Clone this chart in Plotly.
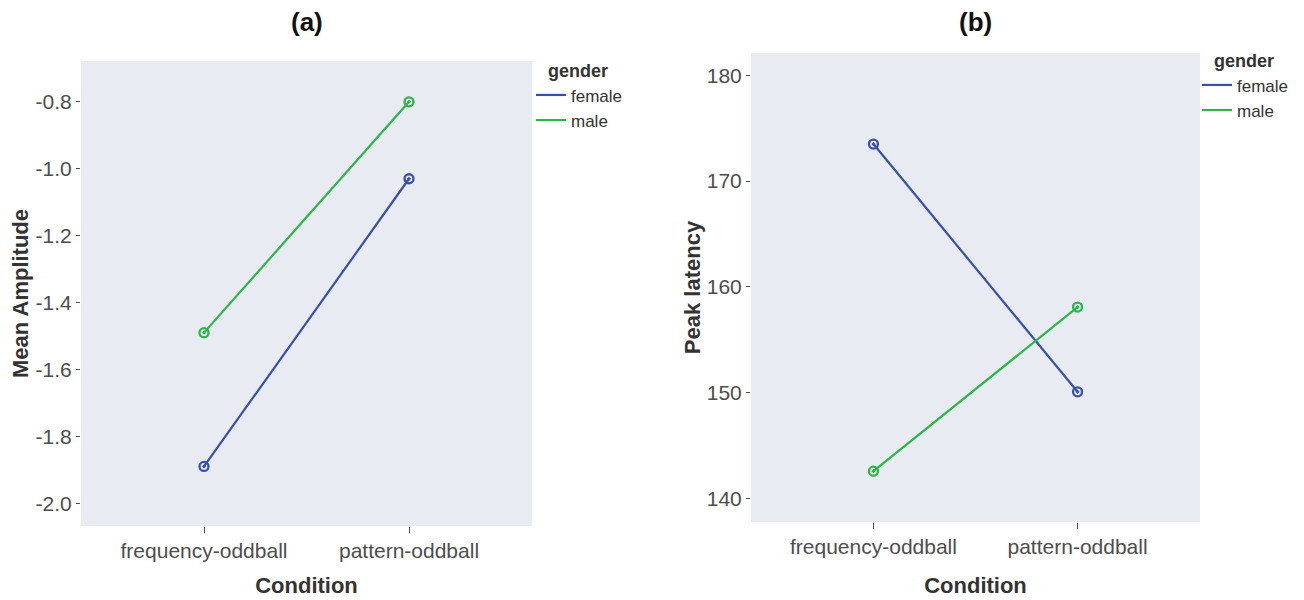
import plotly.graph_objects as go

# Condition categories and gender groups
conditions = ["frequency-oddball", "pattern-oddball"]
genders = ["female", "male"]

# Panel (a): mean amplitude per condition
amp_female = [-1.89, -1.03]
amp_male = [-1.49, -0.80]

# Panel (b): peak latency per condition
lat_female = [173.5, 150.1]
lat_male = [142.6, 158.1]

colors = {"female": "#3A50A5", "male": "#2DB548"}
FONT = "Liberation Sans, Arial, sans-serif"
BG = "#E8EBF1"

fig = go.Figure()

panels = [
    ("x", "y", "legend", {"female": amp_female, "male": amp_male}),
    ("x2", "y2", "legend2", {"female": lat_female, "male": lat_male}),
]

for xa, ya, leg, series in panels:
    for g in genders:
        # connecting line (shown in legend)
        fig.add_trace(go.Scatter(
            x=conditions, y=series[g], xaxis=xa, yaxis=ya,
            mode="lines", name=g, legend=leg,
            line=dict(color=colors[g], width=2.2),
        ))
        # point markers
        fig.add_trace(go.Scatter(
            x=conditions, y=series[g], xaxis=xa, yaxis=ya,
            mode="markers", name=g, showlegend=False,
            marker=dict(symbol="circle-open-dot", size=9,
                        color=colors[g], line=dict(width=2.3, color=colors[g])),
        ))

tick_font = dict(family=FONT, size=21, color="#4D4D4D")
title_font = dict(family=FONT, size=22, color="#333333")

def xaxis(domain, anchor, standoff):
    return dict(
        domain=domain, anchor=anchor, type="category",
        categoryorder="array", categoryarray=conditions,
        range=[-0.6, 1.6], showgrid=False, zeroline=False,
        ticks="outside", ticklen=6, tickwidth=1.2, tickcolor="#4D4D4D",
        tickfont=tick_font,
        title=dict(text="<b>Condition</b>", font=title_font, standoff=standoff),
    )

def yaxis(domain, anchor, rng, tickvals, ticktext, title):
    return dict(
        domain=domain, anchor=anchor, range=rng,
        tickvals=tickvals, ticktext=ticktext,
        showgrid=False, zeroline=False,
        ticks="outside", ticklen=4, tickwidth=1.2, tickcolor="#4D4D4D",
        tickfont=tick_font,
        title=dict(text=f"<b>{title}</b>", font=title_font, standoff=0),
    )

amp_ticks = [-2.0, -1.8, -1.6, -1.4, -1.2, -1.0, -0.8]
lat_ticks = [140, 150, 160, 170, 180]

legend_common = dict(
    xanchor="left", yanchor="top", bgcolor="rgba(0,0,0,0)",
    font=dict(family=FONT, size=17, color="#333333"),
    title=dict(text="\u00a0\u00a0\u00a0<b>gender</b>",
               font=dict(family=FONT, size=18, color="#333333")),
    itemwidth=30, tracegroupgap=0,
)

fig.update_layout(
    width=1304, height=600,
    margin=dict(l=0, r=0, t=0, b=0),
    paper_bgcolor="white",
    plot_bgcolor=BG,
    font=dict(family=FONT),
    xaxis=xaxis([81 / 1304, 532 / 1304], "y", 16),
    yaxis=yaxis([1 - 526 / 600, 1 - 61 / 600], "x", [-2.068, -0.678],
                amp_ticks, [f"{v:.1f}" for v in amp_ticks], "Mean Amplitude"),
    xaxis2=xaxis([751 / 1304, 1200 / 1304], "y2", 20),
    yaxis2=yaxis([1 - 522 / 600, 1 - 53 / 600], "x2", [137.8, 182.1],
                 lat_ticks, [str(v) for v in lat_ticks], "Peak latency"),
    legend=dict(x=531 / 1304, y=1 - 54 / 600, **legend_common),
    legend2=dict(x=1197 / 1304, y=1 - 44 / 600, **legend_common),
    showlegend=True,
    annotations=[
        dict(text="<b>(a)</b>", x=306.5 / 1304, y=1 - 22 / 600, xref="paper", yref="paper",
             showarrow=False, font=dict(family=FONT, size=26, color="#111111"),
             xanchor="center", yanchor="middle"),
        dict(text="<b>(b)</b>", x=975.5 / 1304, y=1 - 22 / 600, xref="paper", yref="paper",
             showarrow=False, font=dict(family=FONT, size=26, color="#111111"),
             xanchor="center", yanchor="middle"),
    ],
)

fig.write_html("out.html")
